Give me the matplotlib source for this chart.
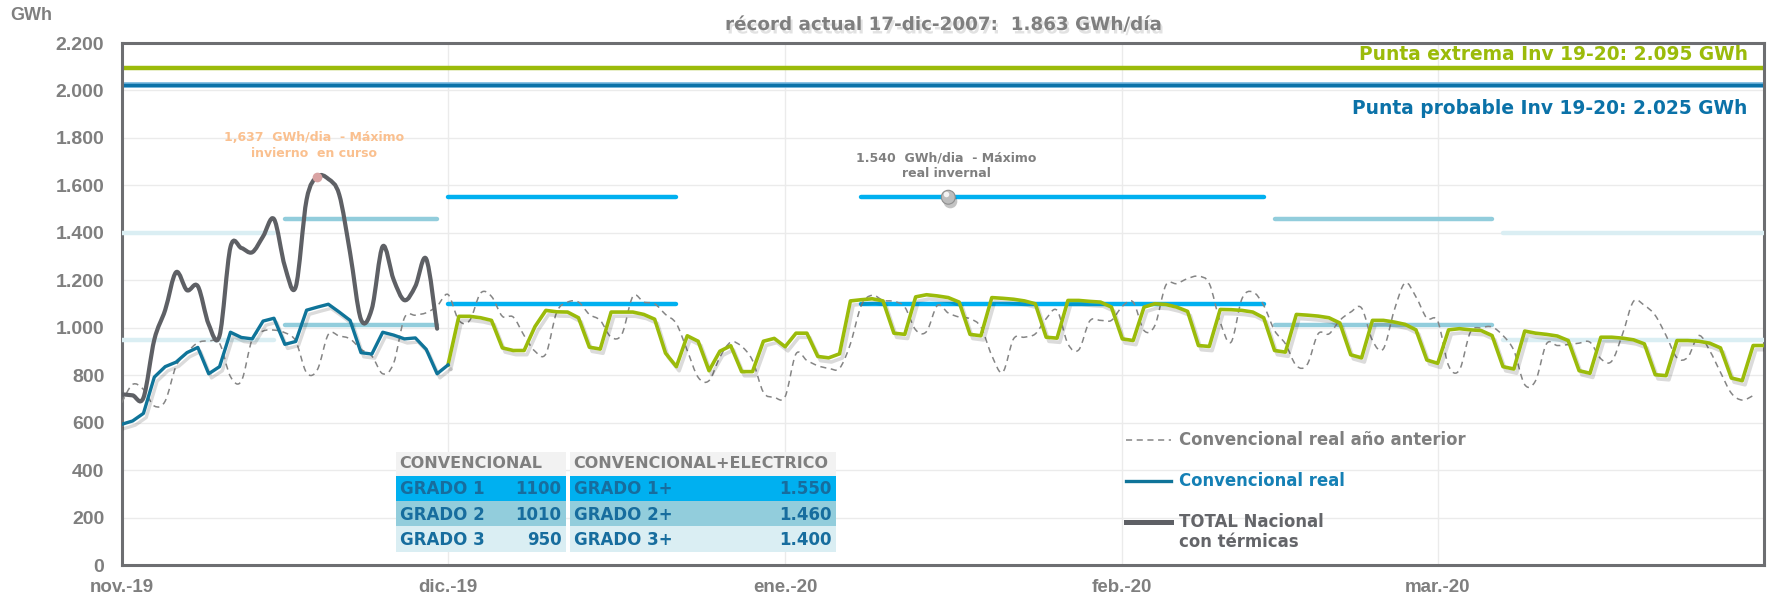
import matplotlib
matplotlib.use('Agg')
from matplotlib import pyplot as plt
import matplotlib.patheffects as pe
from matplotlib.path import Path
from matplotlib.patches import PathPatch, Rectangle
import numpy as np

plt.rcParams['font.family'] = ['DejaVu Sans']

# Datos (GWh/dia), dia 0 = 1-nov-2019
total_nacional = [719, 715, 705, 950, 1075, 1234, 1158, 1175, 1014, 967,
                  1340, 1336, 1318, 1385, 1458, 1259, 1172, 1540, 1637, 1627,
                  1561, 1315, 1035, 1080, 1343, 1203, 1116, 1175, 1290, 996]

conv_real = [593, 607, 639, 792, 836, 855, 895, 917, 806, 836,
             981, 959, 953, 1028, 1040, 930, 942, 1074, 1087, 1099,
             1066, 1031, 895, 889, 981, 969, 953, 957, 909, 806, 843]

# prevision desde el 1-dic (dia 30)
conv_prev = [843, 1048, 1048, 1042, 1031, 915, 904, 904, 1005, 1073,
             1067, 1066, 1042, 918, 910, 1066, 1066, 1066, 1056, 1036,
             893, 836, 966, 943, 819, 901, 924, 815, 815, 943,
             955, 920, 977, 977, 879, 873, 890, 1113, 1118, 1122,
             1113, 977, 972, 1130, 1139, 1134, 1127, 1108, 972, 966,
             1127, 1124, 1120, 1113, 1101, 960, 956, 1115, 1115, 1111,
             1108, 1087, 953, 946, 1087, 1101, 1098, 1087, 1069, 925,
             921, 1077, 1076, 1073, 1066, 1042, 904, 897, 1056, 1053,
             1049, 1042, 1020, 886, 873, 1031, 1031, 1024, 1014, 991,
             864, 850, 991, 996, 991, 988, 967, 836, 826, 986,
             977, 972, 965, 946, 819, 808, 960, 960, 956, 949,
             932, 802, 798, 946, 946, 943, 935, 915, 788, 777,
             925, 925]

conv_anterior = [684, 761, 740, 670, 691, 838, 895, 937, 944, 934,
                 794, 775, 951, 986, 990, 979, 944, 810, 824, 972,
                 965, 953, 909, 881, 806, 850, 1042, 1053, 1063, 1091,
                 1140, 1031, 1031, 1146, 1132, 1048, 1045, 967, 901, 890,
                 1066, 1108, 1108, 1056, 1031, 960, 974, 1132, 1108, 1101,
                 1056, 1017, 904, 791, 777, 876, 939, 921, 862, 728,
                 707, 710, 890, 862, 840, 829, 829, 932, 1094, 1137,
                 1115, 1111, 1087, 991, 984, 1094, 1062, 1045, 1038, 1003,
                 883, 812, 953, 960, 974, 1038, 1073, 932, 907, 1028,
                 1031, 1031, 1090, 1108, 988, 1010, 1179, 1186, 1207, 1217,
                 1186, 1024, 939, 1122, 1151, 1094, 988, 932, 840, 845,
                 974, 974, 1031, 1066, 1083, 946, 911, 1073, 1189, 1130,
                 1040, 1028, 840, 822, 981, 1000, 1003, 967, 904, 760,
                 777, 932, 925, 929, 935, 939, 869, 859, 974, 1111,
                 1094, 1052, 967, 873, 876, 967, 904, 812, 724, 695, 714]

# tramos de grado (dia inicio, dia fin, grado)
tramo_ini = [0, 15, 30, 68, 106, 127]
tramo_fin = [14, 29, 51, 105, 126, 151]
tramo_grado = [3, 2, 1, 1, 2, 3]

grados = ['GRADO 1', 'GRADO 2', 'GRADO 3']
grados_mas = ['GRADO 1+', 'GRADO 2+', 'GRADO 3+']
valor_conv = [1100, 1010, 950]
valor_elec = [1550, 1460, 1400]

punta_extrema = 2095
punta_probable = 2025
max_curso = 1637
dia_max_curso = 18
max_real = 1550
dia_max_real = 76

mes_dias = [0, 30, 61, 92, 121]
mes_etiquetas = ['nov.-19', 'dic.-19', 'ene.-20', 'feb.-20', 'mar.-20']

# colores
verde = '#9bbb0a'
azul_osc = '#0b72a8'
azul_real = '#0f7499'
gris_total = '#5e6065'
gris_txt = '#7f7f7f'
col_grado = {1: '#00b0f0', 2: '#92cddc', 3: '#daeef3'}
txt_tabla = '#176d9e'

W, H = 1769, 598


def fp(xp, yp):
    # pixel -> fraccion de figura
    return xp / W, 1 - yp / H


def curva_suave(x, y):
    n = len(x)
    verts = [(x[0], y[0])]
    codes = [Path.MOVETO]
    for i in range(n - 1):
        a = max(i - 1, 0)
        b = min(i + 2, n - 1)
        c1 = (x[i] + (x[i + 1] - x[a]) / 6, y[i] + (y[i + 1] - y[a]) / 6)
        c2 = (x[i + 1] - (x[b] - x[i]) / 6, y[i + 1] - (y[b] - y[i]) / 6)
        verts += [c1, c2, (x[i + 1], y[i + 1])]
        codes += [Path.CURVE4] * 3
    return Path(verts, codes)


fig = plt.figure(figsize=(W / 100, H / 100), dpi=100)
x0, y0 = fp(121.7, 565)
x1, y1 = fp(1764, 43)
ax = fig.add_axes([x0, y0, x1 - x0, y1 - y0])

ax.set_xlim(0, 151)
ax.set_ylim(0, 2200)
ax.set_yticks(range(0, 2201, 200))
ax.set_yticklabels(['{:,}'.format(v).replace(',', '.') for v in range(0, 2201, 200)])
ax.set_xticks(mes_dias)
ax.set_xticklabels(mes_etiquetas)
ax.tick_params(length=0, colors=gris_txt)
ax.tick_params(axis='y', pad=12.5)
ax.tick_params(axis='x', pad=10)
for lab in ax.get_yticklabels():
    lab.set_fontfamily('Liberation Sans')
    lab.set_fontweight('bold')
    lab.set_fontsize(14)
for lab in ax.get_xticklabels():
    lab.set_fontfamily('Liberation Sans')
    lab.set_fontweight('bold')
    lab.set_fontsize(13.5)
ax.grid(True, color='#ebebeb', linewidth=1)
ax.set_axisbelow(True)
for s in ax.spines.values():
    s.set_color('#6d6e71')
    s.set_linewidth(2.2)

# puntas
ax.axhline(punta_extrema, color=verde, linewidth=3.2, zorder=2)
ax.axhline(punta_probable, color='#6fb3dc', linewidth=4.0, zorder=2)
ax.axhline(punta_probable, color=azul_osc, linewidth=2.4, zorder=2)
ax.text(149.5, 2152, 'Punta extrema Inv 19-20: 2.095 GWh', color=verde,
        fontsize=13.4, fontweight='bold', ha='right', va='center')
ax.text(149.5, 1925, 'Punta probable Inv 19-20: 2.025 GWh', color=azul_osc,
        fontsize=13.4, fontweight='bold', ha='right', va='center')

# tramos de grado
for a, b, g in zip(tramo_ini, tramo_fin, tramo_grado):
    ax.plot([a, b], [valor_elec[g - 1]] * 2, color=col_grado[g], linewidth=3.2,
            solid_capstyle='round', zorder=3)
    ax.plot([a, b], [valor_conv[g - 1]] * 2, color=col_grado[g], linewidth=3.2,
            solid_capstyle='round', zorder=3)

sombra = [pe.SimpleLineShadow(offset=(2, -3), shadow_color='k', alpha=0.14),
          pe.Normal()]

# año anterior (discontinua suavizada)
dias_ant = np.arange(len(conv_anterior))
ax.add_patch(PathPatch(curva_suave(dias_ant, conv_anterior), fill=False,
                       edgecolor='#858585', linewidth=1.1, linestyle=(0, (4, 3)),
                       zorder=4))

# prevision
dias_prev = np.arange(30, 30 + len(conv_prev))
ax.plot(dias_prev, conv_prev, color=verde, linewidth=2.6, zorder=5,
        path_effects=sombra)

# convencional real
dias_real = np.arange(len(conv_real))
ax.plot(dias_real, conv_real, color=azul_real, linewidth=2.4, zorder=6,
        path_effects=sombra)

# total nacional con termicas (suavizada)
dias_tot = np.arange(len(total_nacional))
ax.add_patch(PathPatch(curva_suave(dias_tot, total_nacional), fill=False,
                       edgecolor=gris_total, linewidth=3.0, zorder=7,
                       capstyle='round', joinstyle='round'))

# maximos
ax.plot([dia_max_curso], [max_curso], 'o', color='#d9a3a3', markersize=7,
        markeredgewidth=0, zorder=8)
ax.text(17.7, 1770, '1,637  GWh/dia  - Máximo\ninvierno  en curso', color='#fac08f',
        fontsize=9, fontweight='bold', ha='center', va='center', linespacing=1.3)
ax.plot([dia_max_real], [max_real], 'o', color='#bdbdbd', markersize=10,
        markeredgecolor='#8e8e8e', markeredgewidth=0.8, zorder=8,
        path_effects=[pe.SimplePatchShadow(offset=(1.5, -3), alpha=0.3), pe.Normal()])
ax.plot([dia_max_real - 0.25], [max_real + 12], 'o', color='#f4f4f4', markersize=4,
        markeredgewidth=0, zorder=9)
ax.text(75.8, 1683, '1.540  GWh/dia  - Máximo\nreal invernal', color=gris_txt,
        fontsize=9, fontweight='bold', ha='center', va='center', linespacing=1.3)

# leyenda manual
tr = ax.transAxes


def lx(xp):
    return (xp - 121.7) / (1764 - 121.7)


def ly(yp):
    return (565 - yp) / 522


ax.plot([lx(1126), lx(1171)], [ly(440)] * 2, transform=tr, color='#858585',
        linewidth=1.1, linestyle=(0, (4, 3)))
ax.text(lx(1179), ly(440), 'Convencional real año anterior', transform=tr,
        color=gris_txt, fontsize=11.9, fontweight='bold', va='center')
ax.plot([lx(1126), lx(1171)], [ly(481)] * 2, transform=tr, color=azul_real,
        linewidth=2.4)
ax.text(lx(1179), ly(481), 'Convencional real', transform=tr,
        color='#1580b5', fontsize=11.9, fontweight='bold', va='center')
ax.plot([lx(1126), lx(1171)], [ly(522)] * 2, transform=tr, color=gris_total,
        linewidth=3.6)
ax.text(lx(1179), ly(532), 'TOTAL Nacional\ncon térmicas', transform=tr,
        color='#646569', fontsize=11.9, fontweight='bold', va='center',
        linespacing=1.2)

# tablas de grados
filas_y = [476, 501, 526, 552]
for (xa, xb), cab, etiq, vals in [((396, 566), 'CONVENCIONAL', grados,
                                   [str(v) for v in valor_conv]),
                                  ((570, 836), 'CONVENCIONAL+ELECTRICO', grados_mas,
                                   ['{:,}'.format(v).replace(',', '.') for v in valor_elec])]:
    fx, fy = fp(xa, filas_y[0])
    fx2, fy2 = fp(xb, 452)
    fig.patches.append(Rectangle((fx, fy), fx2 - fx, fy2 - fy, transform=fig.transFigure,
                                 facecolor='#f2f2f2', edgecolor='none', zorder=10))
    tx, ty = fp(xa + 3.5, 464)
    fig.text(tx, ty, cab, color=gris_txt, fontsize=11.5, fontweight='bold',
             va='center', ha='left', zorder=11)
    for i in range(3):
        fx, fy = fp(xa, filas_y[i + 1])
        fx2, fy2 = fp(xb, filas_y[i])
        fig.patches.append(Rectangle((fx, fy), fx2 - fx, fy2 - fy,
                                     transform=fig.transFigure,
                                     facecolor=col_grado[i + 1], edgecolor='none',
                                     zorder=10))
        tx, ty = fp(xa + 3.5, (filas_y[i] + filas_y[i + 1]) / 2 + 1)
        fig.text(tx, ty, etiq[i], color=txt_tabla, fontsize=12, fontweight='bold',
                 va='center', ha='left', zorder=11)
        tx, ty = fp(xb - 4.5, (filas_y[i] + filas_y[i + 1]) / 2 + 1)
        fig.text(tx, ty, vals[i], color=txt_tabla, fontsize=12, fontweight='bold',
                 va='center', ha='right', zorder=11)

# titulos
tx, ty = fp(943.5, 25)
fig.text(tx, ty, 'récord actual 17-dic-2007:  1.863 GWh/día', color=gris_txt,
         fontsize=13.2, fontweight='bold', ha='center', va='center',
         path_effects=[pe.SimplePatchShadow(offset=(1.5, -2.5), alpha=0.13),
                       pe.Normal()])
tx, ty = fp(10, 15)
fig.text(tx, ty, 'GWh', color=gris_txt, fontsize=13, fontweight='bold',
         fontfamily='Liberation Sans', ha='left', va='center')

fig.savefig('out.png', dpi=100)
